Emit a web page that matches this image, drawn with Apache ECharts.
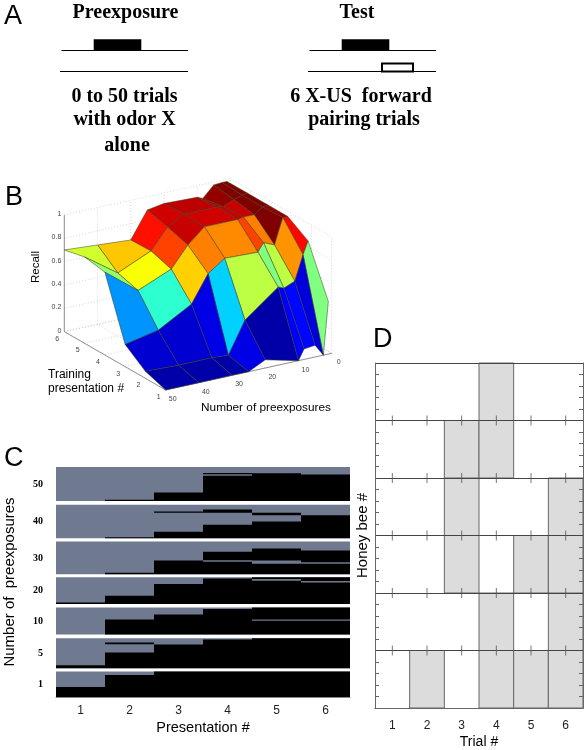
<!DOCTYPE html>
<html><head><meta charset="utf-8">
<style>html,body{margin:0;padding:0;background:#fff}#c{width:587px;height:750px}</style>
<script src="https://cdn.jsdelivr.net/npm/echarts@6/dist/echarts.min.js"></script>
</head><body><div id="c"></div>
<script>
// ---------- Panel A: protocol schematic (time along the trace)
const protocolTraces = [[61.5,188,50.5],[60,188,71.5],[309.5,436,50.5],[308,436,71.5]];
const odorPulses = [[93.7,141.3,39.3,50.5],[341.7,389.3,39.3,50.5]];
const usPulses = [[382,413,63.5,71.5]];

// ---------- Panel B: recall surface
const surfacePre = [50,40,30,25,20,10,8.3,5,2.5,1];
const surfacePres = [1,2,3,4,5,6];
const surfaceZ = [
 [0,0,0,0,.07,0,.09,.10,0,.45],
 [.06,.05,.05,.04,.31,.53,.51,.55,.76,.87],
 [.19,.25,.41,.64,.74,.73,.80,.76,.98,.98],
 [.71,.49,.61,.785,.91,.91,.92,.92,.97,.98],
 [.74,.54,.666,.84,.92,.92,.91,.95,.97,.98],
 [.70,.68,.66,.886,.91,.90,.88,.975,.98,.98]
];
const surfaceLevel = [
 [.04,.04,.04,.10,.04,.12,.13,.09,.50],
 [.08,.08,.10,.33,.56,.50,.56,.73,.87],
 [.27,.42,.67,.75,.74,.81,.75,1.0,.98],
 [.52,.62,.81,.93,.92,.93,.93,1.0,1.0],
 [.58,.68,.86,.92,.94,.95,.98,1.0,1.0]
];
const zTicks = [0,.2,.4,.6,.8,1];
const presTicks = [1,2,3,4,5,6];
const preTicks = [0,10,20,30,40,50];

// ---------- Panel C: share of bees responding per presentation, per group
const presentationLabels = ['1','2','3','4','5','6'];
const groupNames = ['1','5','10','20','30','40','50'];
const groupBase = [0,86,187,278,367,475,586];
const groupSpan = [76,90,81,80,98,100,102];
const responders = [
 [[[0,.395]],[[0,.87]],[[0,1]],[[0,1]],[[0,1]],[[0,1]]],
 [[[0,.1]],[[0,.52],[.8,.855]],[[0,.79]],[[0,.955]],[[0,1]],[[0,1]]],
 [[],[[0,.556]],[[0,.74]],[[0,.94]],[[0,.506],[.556,1]],[[0,.506],[.556,1]]],
 [[[0,.06]],[[0,.31]],[[0,.75]],[[0,.96]],[[0,.875],[.94,1]],[[0,.81],[.86,1]]],
 [[],[[0,.05]],[[0,.42]],[[0,.38],[.43,.69]],[[0,.32],[.42,.79]],[[0,.32],[.37,.73]]],
 [[],[[0,.03]],[[0,.19],[.76,.8]],[[0,.4],[.76,.86]],[[0,.5],[.69,.76]],[[0,.69]]],
 [[],[[0,.04]],[[0,.25]],[[0,.745],[.785,.825]],[[0,.82]],[[0,.78]]]
];

// ---------- Panel D: individual bee responses
const trialLabels = ['1','2','3','4','5','6'];
const beeRows = [0,5,10,15,20,25];
const beeResponses = [
 [0,1,0,1,1,1],
 [0,0,0,1,0,1],
 [0,0,1,0,1,1],
 [0,0,1,0,0,1],
 [0,0,1,1,0,0],
 [0,0,0,1,0,0]
];

// ---------- helpers
const SANS='Liberation Sans', SERIF='Liberation Serif';
const clamp=v=>Math.max(0,Math.min(1,v));
function jet(t){const c=o=>Math.round(255*clamp(1.5-Math.abs(4*t-o)));return `rgb(${c(3)},${c(2)},${c(1)})`;}
function project(pre,pres,z){
  return [165.67+(50-pre)*3.32+(pres-1)*-20.27, 390+(50-pre)*-.7333+(pres-1)*-11.67+z*-116.67];
}
const panelLetter=(t,x,y)=>({type:'text',left:x,top:y,style:{text:t,font:`27px "${SANS}"`,fill:'#000'}});
const label=(t,cx,cy,font,rot)=>({type:'text',x:cx,y:cy,rotation:rot||0,style:{text:t,font,fill:'#000',textAlign:'center',textVerticalAlign:'middle'}});

// surface faces in painter order: back to front
const faces=[];
for(let r=surfacePres.length-2;r>=0;r--)for(let c=surfacePre.length-2;c>=0;c--)faces.push([r,c]);

// 3-D box guide lines
const boxLines=[];
zTicks.forEach(z=>{boxLines.push([[50,6,z],[0,6,z]]);boxLines.push([[0,6,z],[0,1,z]]);});
preTicks.forEach(p=>{boxLines.push([[p,6,0],[p,6,1]]);boxLines.push([[p,1,0],[p,6,0]]);});
presTicks.forEach(p=>{boxLines.push([[0,p,0],[0,p,1]]);boxLines.push([[50,p,0],[0,p,0]]);});
const axisEdges=[[[50,6,0],[50,6,1]],[[50,1,0],[0,1,0]],[[50,1,0],[50,6,0]]];

const stripes=[];
responders.forEach((g,gi)=>g.forEach((list,pi)=>list.forEach(s=>stripes.push([pi,groupBase[gi]+s[0]*groupSpan[gi],groupBase[gi]+s[1]*groupSpan[gi]]))));
const groupBlocks=groupBase.map((b,i)=>[b,b+groupSpan[i]]);
const rowTicks=[];
trialLabels.forEach((t,i)=>beeRows.slice(1).forEach(r=>rowTicks.push([i,r])));
const cells=[];
beeResponses.forEach((row,ri)=>row.forEach((v,ci)=>{if(v)cells.push([ci,beeRows[ri]]);}));

const chart=echarts.init(document.getElementById('c'),null,{renderer:'canvas'});
chart.setOption({
 animation:false,backgroundColor:'#fff',
 grid:[
  {left:0,top:0,width:587,height:750,outerBoundsMode:'none'},
  {left:56,top:467,width:294,height:230,outerBoundsMode:'none'},
  {left:375,top:363,width:208,height:345,outerBoundsMode:'none'}
 ],
 xAxis:[
  {gridIndex:0,type:'value',min:0,max:587,show:false},
  {gridIndex:1,type:'category',data:presentationLabels,z:3,
   axisLine:{lineStyle:{color:'#888',width:1}},axisTick:{show:false},
   axisLabel:{margin:8,color:'#222',fontFamily:SANS,fontSize:12},
   name:'Presentation #',nameLocation:'middle',nameGap:23,nameTextStyle:{fontFamily:SANS,fontSize:14.5,color:'#000'}},
  {gridIndex:2,type:'category',data:trialLabels,z:3,
   axisLine:{lineStyle:{color:'#666',width:1}},axisTick:{alignWithLabel:true,inside:true,length:5,lineStyle:{color:'#555'}},
   axisLabel:{margin:12,color:'#222',fontFamily:SANS,fontSize:12},
   name:'Trial #',nameLocation:'middle',nameGap:27,nameTextStyle:{fontFamily:SANS,fontSize:14,color:'#000'}},
  {gridIndex:2,type:'category',position:'top',data:trialLabels,z:3,
   axisLine:{lineStyle:{color:'#666',width:1}},axisTick:{alignWithLabel:true,inside:true,length:5,lineStyle:{color:'#555'}},
   axisLabel:{show:false}}
 ],
 yAxis:[
  {gridIndex:0,type:'value',min:0,max:750,inverse:true,show:false},
  {gridIndex:1,type:'value',min:0,max:688,z:3,splitLine:{show:false},
   axisLine:{show:false},axisTick:{show:false},
   axisLabel:{margin:13,fontFamily:SERIF,fontWeight:'bold',fontSize:10,color:'#000',
     customValues:groupBase.map((b,i)=>b+groupSpan[i]/2),
     formatter:v=>groupNames[groupBase.findIndex((b,i)=>Math.abs(b+groupSpan[i]/2-v)<1e-6)]},
   name:'Number of  preexposures',nameLocation:'middle',nameGap:39,nameTextStyle:{fontFamily:SANS,fontSize:15,color:'#000'}},
  {gridIndex:2,type:'value',min:0,max:30,interval:5,z:3,
   axisLine:{show:true,lineStyle:{color:'#666'}},
   axisTick:{inside:true,length:5,lineStyle:{color:'#666'}},
   minorTick:{show:true,splitNumber:5,length:4,lineStyle:{color:'#666'}},
   splitLine:{show:true,lineStyle:{color:'#444',width:1}},
   axisLabel:{show:false},
   name:'Honey bee #',nameLocation:'middle',nameGap:5,nameTextStyle:{fontFamily:SANS,fontSize:15,color:'#000'}},
  {gridIndex:2,type:'value',position:'right',min:0,max:30,interval:5,z:3,
   axisLine:{show:true,lineStyle:{color:'#666'}},
   axisTick:{inside:true,length:5,lineStyle:{color:'#666'}},
   minorTick:{show:true,splitNumber:5,length:4,lineStyle:{color:'#666'}},
   splitLine:{show:false},axisLabel:{show:false}}
 ],
 series:[
  // Panel A
  {type:'custom',xAxisIndex:0,yAxisIndex:0,silent:true,clip:false,data:protocolTraces,z:2,
   renderItem:(p,api)=>{const a=api.coord([api.value(0),api.value(2)]),b=api.coord([api.value(1),api.value(2)]);
     return {type:'line',shape:{x1:a[0],y1:a[1],x2:b[0],y2:b[1]},style:{stroke:'#000',lineWidth:1}};}},
  {type:'custom',xAxisIndex:0,yAxisIndex:0,silent:true,clip:false,data:odorPulses,z:3,
   renderItem:(p,api)=>{const a=api.coord([api.value(0),api.value(2)]),b=api.coord([api.value(1),api.value(3)]);
     return {type:'rect',shape:{x:a[0],y:a[1],width:b[0]-a[0],height:b[1]-a[1]},style:{fill:'#000'}};}},
  {type:'custom',xAxisIndex:0,yAxisIndex:0,silent:true,clip:false,data:usPulses,z:3,
   renderItem:(p,api)=>{const a=api.coord([api.value(0),api.value(2)]),b=api.coord([api.value(1),api.value(3)]);
     return {type:'rect',shape:{x:a[0],y:a[1],width:b[0]-a[0],height:b[1]-a[1]},style:{fill:'#fff',stroke:'#000',lineWidth:2}};}},
  // Panel B box
  {type:'custom',xAxisIndex:0,yAxisIndex:0,silent:true,clip:false,z:2,data:boxLines.map((_,i)=>i),
   renderItem:(p,api)=>{const l=boxLines[p.dataIndex],a=api.coord(project(...l[0])),b=api.coord(project(...l[1]));
     return {type:'line',shape:{x1:a[0],y1:a[1],x2:b[0],y2:b[1]},style:{stroke:'#bbb',lineWidth:.6,lineDash:[1,2]}};}},
  {type:'custom',xAxisIndex:0,yAxisIndex:0,silent:true,clip:false,z:2,data:axisEdges.map((_,i)=>i),
   renderItem:(p,api)=>{const l=axisEdges[p.dataIndex],a=api.coord(project(...l[0])),b=api.coord(project(...l[1]));
     return {type:'line',shape:{x1:a[0],y1:a[1],x2:b[0],y2:b[1]},style:{stroke:'#777',lineWidth:.8}};}},
  // Panel B surface
  {type:'custom',xAxisIndex:0,yAxisIndex:0,silent:true,clip:false,z:3,data:faces.map((_,i)=>i),
   renderItem:(p,api)=>{const [r,c]=faces[p.dataIndex];
     const v=(ri,ci)=>api.coord(project(surfacePre[ci],surfacePres[ri],surfaceZ[ri][ci]));
     return {type:'polygon',shape:{points:[v(r,c),v(r,c+1),v(r+1,c+1),v(r+1,c)]},
       style:{fill:jet(surfaceLevel[r][c]),stroke:'#3a3a20',lineWidth:.5,lineJoin:'round'}};}},
  // Panel B tick labels
  {type:'custom',xAxisIndex:0,yAxisIndex:0,silent:true,clip:false,z:4,data:zTicks,
   renderItem:(p,api)=>{const z=api.value(0),a=api.coord(project(50,6,z));
     return {type:'text',x:a[0]-3,y:a[1]-1,style:{text:String(z),font:`7px "${SANS}"`,fill:'#444',textAlign:'right',textVerticalAlign:'middle'}};}},
  {type:'custom',xAxisIndex:0,yAxisIndex:0,silent:true,clip:false,z:4,data:presTicks,
   renderItem:(p,api)=>{const a=api.coord(project(50,api.value(0),0));
     return {type:'text',x:a[0]-7,y:a[1]+7,style:{text:String(api.value(0)),font:`7px "${SANS}"`,fill:'#444',textAlign:'center',textVerticalAlign:'middle'}};}},
  {type:'custom',xAxisIndex:0,yAxisIndex:0,silent:true,clip:false,z:4,data:preTicks,
   renderItem:(p,api)=>{const a=api.coord(project(api.value(0),1,0));
     return {type:'text',x:a[0]+7,y:a[1]+9,style:{text:String(api.value(0)),font:`7px "${SANS}"`,fill:'#444',textAlign:'center',textVerticalAlign:'middle'}};}},
  // Panel C
  {type:'custom',xAxisIndex:1,yAxisIndex:1,silent:true,z:1,data:groupBlocks,
   renderItem:(p,api)=>{const a=api.coord([0,api.value(1)]),b=api.coord([5,api.value(0)]),w=api.size([1,0])[0];
     return {type:'rect',shape:{x:a[0]-w/2,y:a[1],width:b[0]-a[0]+w,height:b[1]-a[1]},style:{fill:'#6f7a90'}};}},
  {type:'custom',xAxisIndex:1,yAxisIndex:1,silent:true,z:2,data:stripes,
   renderItem:(p,api)=>{const a=api.coord([api.value(0),api.value(2)]),b=api.coord([api.value(0),api.value(1)]),w=api.size([1,0])[0];
     return {type:'rect',shape:{x:a[0]-w/2,y:a[1],width:w,height:b[1]-a[1]},style:{fill:'#000'}};}},
  // Panel D
  {type:'custom',xAxisIndex:2,yAxisIndex:2,silent:true,z:1,data:cells,
   renderItem:(p,api)=>{const a=api.coord([api.value(0),api.value(1)+5]),b=api.coord([api.value(0),api.value(1)]),w=api.size([1,0])[0];
     return {type:'rect',shape:{x:a[0]-w/2,y:a[1],width:w,height:b[1]-a[1]},style:{fill:'#dcdcdc',stroke:'#666',lineWidth:1}};}},
  {type:'scatter',xAxisIndex:2,yAxisIndex:2,silent:true,z:4,data:rowTicks,symbol:'rect',symbolSize:[1,10],itemStyle:{color:'#555'}}
 ],
 graphic:[
  panelLetter('A',4,3),panelLetter('B',5,184),panelLetter('C',4,445),panelLetter('D',373,326),
  label('Preexposure',125.5,13,`bold 20px "${SERIF}"`),
  label('Test',357,13,`bold 20px "${SERIF}"`),
  label('0 to 50 trials',124.5,97,`bold 20px "${SERIF}"`),
  label('with odor X',124.5,120,`bold 20px "${SERIF}"`),
  label('alone',127,146,`bold 20px "${SERIF}"`),
  label('6 X-US  forward',361,97,`bold 20px "${SERIF}"`),
  label('pairing trials',364,120,`bold 20px "${SERIF}"`),
  label('Recall',36,267,`11.5px "${SANS}"`,Math.PI/2),
  {type:'text',left:48,top:369,style:{text:'Training',font:`12px "${SANS}"`,fill:'#000'}},
  {type:'text',left:48,top:383,style:{text:'presentation #',font:`12px "${SANS}"`,fill:'#000'}},
  label('Number of preexposures',266,408,`11.8px "${SANS}"`)
 ]
});
</script></body></html>
